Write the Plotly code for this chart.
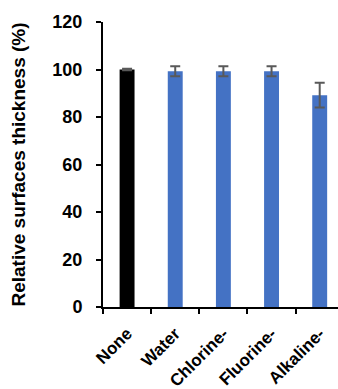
import plotly.graph_objects as go

# Surface thickness after each treatment, relative to untreated (%)
categories = ["None", "Water", "Chlorine-", "Fluorine-", "Alkaline-"]
thickness = [100.0, 99.3, 99.3, 99.3, 89.2]
thickness_err = [0.3, 2.1, 2.1, 2.1, 5.2]
bar_colors = ["#000000", "#4472C4", "#4472C4", "#4472C4", "#4472C4"]
y_ticks = [0, 20, 40, 60, 80, 100, 120]

font_family = "Arial, Liberation Sans, sans-serif"

fig = go.Figure(
    go.Bar(
        x=categories,
        y=thickness,
        marker=dict(color=bar_colors, line=dict(width=0)),
        width=0.31,
        error_y=dict(
            type="data",
            array=thickness_err,
            visible=True,
            color="#595959",
            thickness=2,
            width=5,
        ),
    )
)

fig.update_layout(
    width=338,
    height=389,
    margin=dict(l=103, r=0, t=22, b=82, autoexpand=False),
    plot_bgcolor="white",
    paper_bgcolor="white",
    showlegend=False,
    font=dict(family=font_family, color="black"),
)

fig.update_xaxes(
    type="category",
    range=[-0.5, 4.38],
    showline=True,
    linecolor="black",
    linewidth=2,
    ticks="outside",
    tickson="boundaries",
    ticklen=5,
    tickwidth=2,
    tickcolor="black",
    tickangle=-45,
    tickfont=dict(family=font_family, size=17, color="black", weight="bold"),
    ticklabelstandoff=8,
    showgrid=False,
    automargin=False,
)

fig.update_yaxes(
    range=[0, 120],
    tickvals=y_ticks,
    showline=True,
    linecolor="black",
    linewidth=2,
    ticks="outside",
    ticklen=5,
    tickwidth=2,
    tickcolor="black",
    tickfont=dict(family=font_family, size=18, color="black", weight="bold"),
    ticklabelstandoff=10,
    showgrid=False,
    zeroline=False,
    automargin=False,
    title=dict(
        text="Relative surfaces thickness (%)",
        font=dict(family=font_family, size=19, color="black", weight="bold"),
        standoff=22,
    ),
)

fig.write_html("out.html")
